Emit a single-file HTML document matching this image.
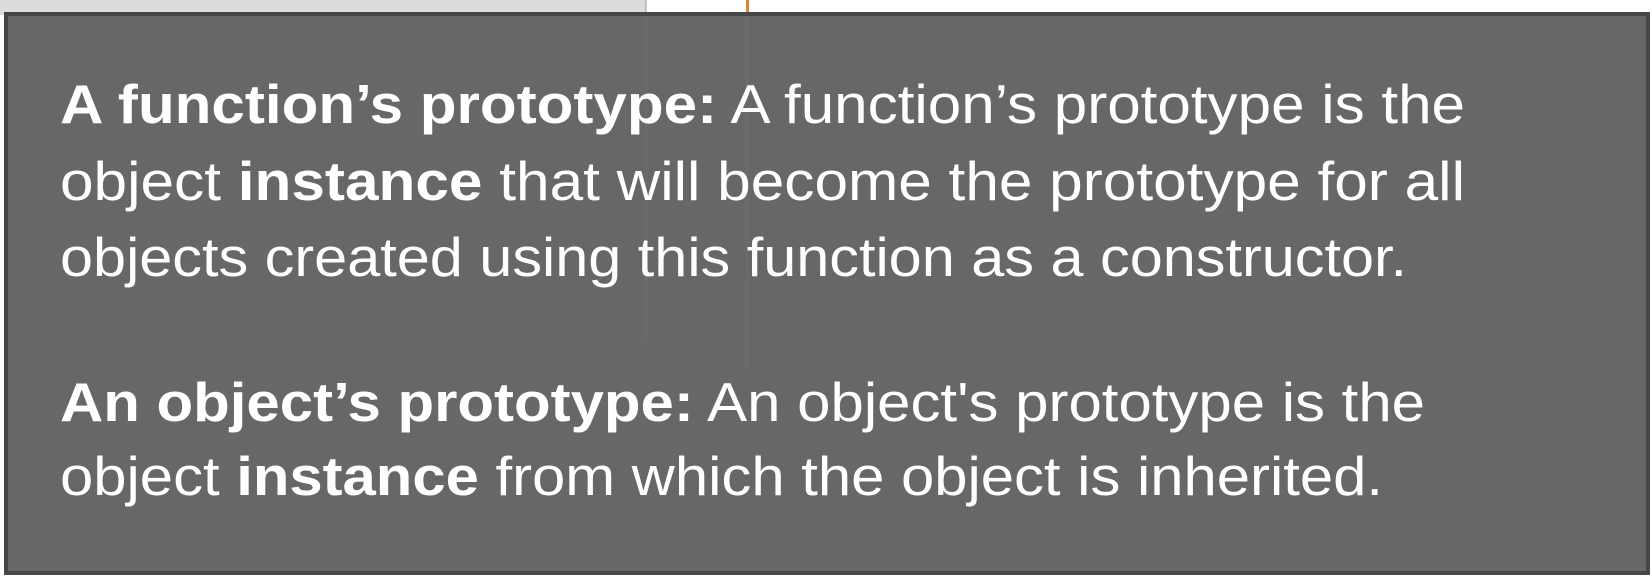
<!DOCTYPE html>
<html><head><meta charset="utf-8"><style>
html,body{margin:0;padding:0;background:#fff;}
body{width:1652px;height:582px;position:relative;overflow:hidden;}
</style></head><body>
<svg width="1652" height="582" viewBox="0 0 1652 582" style="position:absolute;left:0;top:0">
<rect x="0" y="0" width="1652" height="582" fill="#ffffff"/>
<rect x="0" y="0" width="646" height="15" fill="#dcdcdc"/>
<line x1="646" y1="0" x2="646" y2="15" stroke="#999" stroke-width="1"/>
<rect x="746" y="0" width="3" height="15" fill="#d9843a"/>
<rect x="6" y="14" width="1642" height="559" fill="#676767" stroke="#474747" stroke-width="4"/>
<line x1="646" y1="16" x2="646" y2="340" stroke="#6c6c6c" stroke-width="2"/>
<line x1="747" y1="16" x2="747" y2="370" stroke="#6d6a6e" stroke-width="3"/>
<g font-family="Liberation Sans, sans-serif" font-size="55" fill="#ffffff">
<text x="60" y="123" textLength="1405" lengthAdjust="spacingAndGlyphs"><tspan font-weight="bold">A function’s prototype:</tspan>  A function’s prototype is the</text>
<text x="60" y="200" textLength="1405" lengthAdjust="spacingAndGlyphs">object <tspan font-weight="bold">instance</tspan> that will become the prototype for all</text>
<text x="60" y="276" textLength="1347" lengthAdjust="spacingAndGlyphs">objects created using this function as a constructor.</text>
<text x="60" y="421" textLength="1365" lengthAdjust="spacingAndGlyphs"><tspan font-weight="bold">An object’s prototype:</tspan>  An object's prototype is the</text>
<text x="60" y="495" textLength="1323" lengthAdjust="spacingAndGlyphs">object <tspan font-weight="bold">instance</tspan> from which the object is inherited.</text>
</g>
</svg>
</body></html>
